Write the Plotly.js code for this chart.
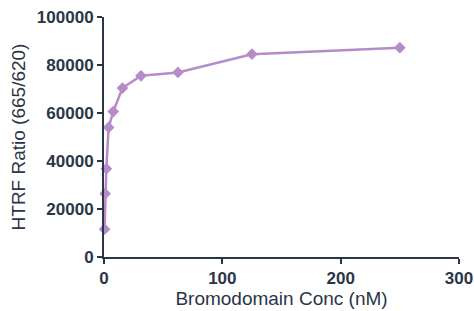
<!DOCTYPE html>
<html><head><meta charset="utf-8">
<script src="https://cdn.plot.ly/plotly-3.0.1.min.js"></script>
<style>html,body{margin:0;padding:0;background:#fff}#c{width:474px;height:311px}</style>
</head><body><div id="c"></div>
<script>
const concentration = [0.49, 0.98, 1.95, 3.9, 7.8, 15.6, 31.25, 62.5, 125, 250];
const htrfRatio = [11600, 26400, 36800, 54000, 60600, 70400, 75500, 76900, 84500, 87200];
const xTicks = [0, 100, 200, 300];
const yTicks = [0, 20000, 40000, 60000, 80000, 100000];

const axisColor = '#2b3548';
const trace = {
  x: concentration, y: htrfRatio, type: 'scatter', mode: 'lines+markers',
  line: {color: '#b58bc9', width: 2.5},
  marker: {symbol: 'diamond', size: 9, color: '#b58bc9'},
  cliponaxis: false, hoverinfo: 'none'
};
const layout = {
  width: 474, height: 311,
  margin: {l: 104, r: 15, t: 17, b: 54},
  paper_bgcolor: '#fff', plot_bgcolor: '#fff',
  showlegend: false,
  xaxis: {
    range: [0, 300], tickvals: xTicks, ticktext: xTicks.map(String),
    showgrid: false, zeroline: false, showline: true, linecolor: axisColor, linewidth: 2,
    ticks: 'outside', ticklen: 5, tickwidth: 2, tickcolor: axisColor,
    tickfont: {family: 'Liberation Sans, Arial, sans-serif', size: 17, color: axisColor, weight: 'bold'},
    title: {text: 'Bromodomain Conc (nM)', standoff: 2,
      font: {family: 'Liberation Sans, Arial, sans-serif', size: 19, color: axisColor}}
  },
  yaxis: {
    range: [0, 100000], tickvals: yTicks, ticktext: yTicks.map(String),
    showgrid: false, zeroline: false, showline: true, linecolor: axisColor, linewidth: 2,
    ticks: 'outside', ticklen: 5, tickwidth: 2, tickcolor: axisColor,
    tickfont: {family: 'Liberation Sans, Arial, sans-serif', size: 17, color: axisColor, weight: 'bold'},
    title: {text: 'HTRF Ratio (665/620)', standoff: 6,
      font: {family: 'Liberation Sans, Arial, sans-serif', size: 19, color: axisColor}}
  }
};
Plotly.newPlot('c', [trace], layout, {staticPlot: true, displayModeBar: false});
</script></body></html>
